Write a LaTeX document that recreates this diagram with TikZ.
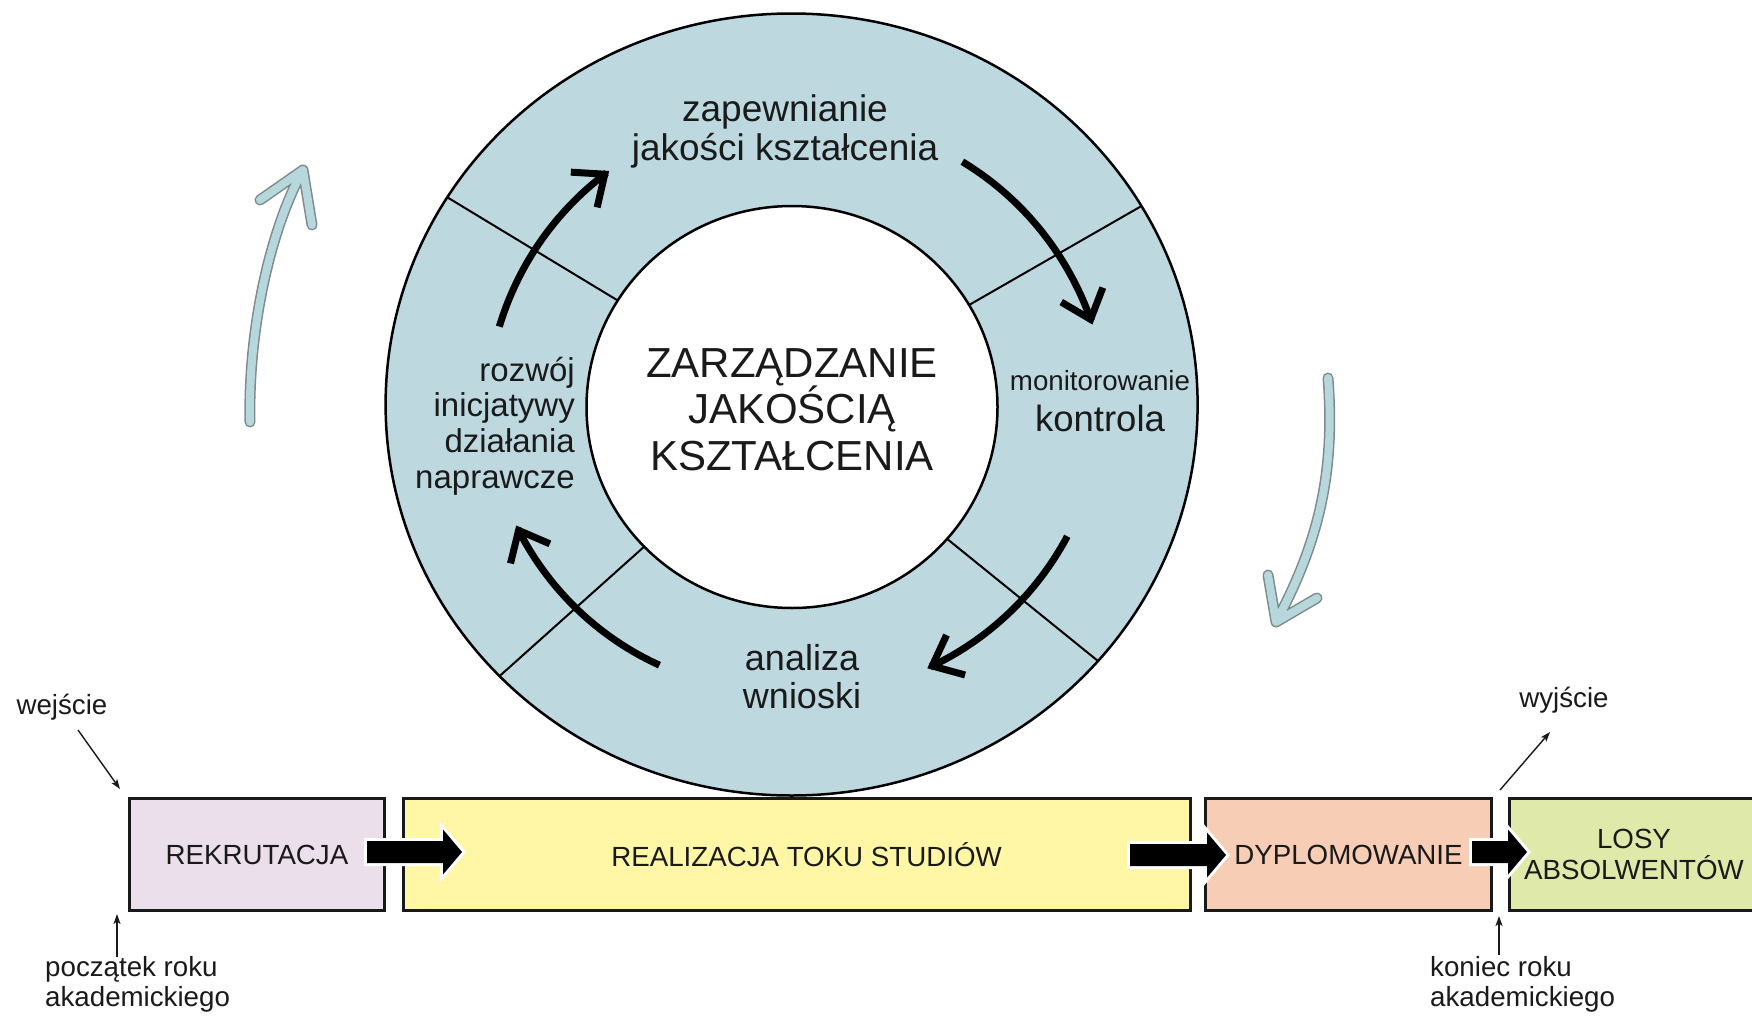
\documentclass[tikz,border=0pt]{standalone}
\usepackage{fontspec}
\setmainfont{Liberation Sans}
\usetikzlibrary{arrows.meta}
\definecolor{ringc}{HTML}{BDD9DF}
\definecolor{lavc}{HTML}{EADFEA}
\definecolor{yelc}{HTML}{FFF6A6}
\definecolor{peachc}{HTML}{F7CDB5}
\definecolor{greenc}{HTML}{DEE9AA}
\definecolor{blueac}{HTML}{B6D7DB}
\definecolor{blueoc}{HTML}{7E8A8C}
\definecolor{txtc}{HTML}{1A1A1A}
\newcommand{\blockarrow}[3]{%
  \draw[white, line width=6pt, line join=miter] (#1,#3-11) -- (#2-19,#3-11) -- (#2-19,#3-22.5) -- (#2,#3) -- (#2-19,#3+22.5) -- (#2-19,#3+11) -- (#1,#3+11) -- cycle;
  \fill[black] (#1,#3-11) -- (#2-19,#3-11) -- (#2-19,#3-22.5) -- (#2,#3) -- (#2-19,#3+22.5) -- (#2-19,#3+11) -- (#1,#3+11) -- cycle;}
\newcommand{\arcarrow}[4]{%
  \draw[cyclearrow] plot[domain=#1:#2, samples=60, variable=\t]
   ({792+(#3+(#4-#3)*(\t-#1)/(#2-#1))*cos(\t)}, {405-(#3+(#4-#3)*(\t-#1)/(#2-#1))*sin(\t)});}
\begin{document}
\begin{tikzpicture}[x=1pt,y=-1pt,
  every node/.style={text=txtc, inner sep=0pt},
  box/.style={draw=black!90, line width=3pt, minimum height=112pt, align=center,
    font=\fontsize{27.7}{31}\selectfont},
  lbl/.style={font=\fontsize{27.7}{30}\selectfont},
  sect/.style={align=center, font=\fontsize{37}{39}\selectfont},
  thinarrow/.style={line width=1.4pt, draw=txtc, -{Stealth[length=10pt,width=7pt,inset=2.5pt]}},
  cyclearrow/.style={line width=7pt, draw=black, -{Straight Barb[length=26pt,width=44pt]}},
  blueout/.style={line width=11pt, draw=blueoc, line cap=round, line join=round},
  bluein/.style={line width=8pt, draw=blueac, line cap=round, line join=round}]
\useasboundingbox (0,0) rectangle (1752,1017);
\fill[white] (0,0) rectangle (1752,1017);

% ring
\filldraw[fill=ringc, draw=black, line width=2.5pt] (791.6,404.5) ellipse [x radius=406, y radius=391];
\foreach \a in {148,30.5,224,319}
  \draw[line width=2pt] ({792+205.5*cos(\a)},{407-201*sin(\a)}) -- ({791.6+406*cos(\a)},{404.5-391*sin(\a)});
\filldraw[fill=white, draw=black, line width=2.5pt] (792,407) ellipse [x radius=205.5, y radius=201];

% texts in ring
\node[align=center, font=\fontsize{42}{46.5}\selectfont] (zjk) at (792,409.5) {ZARZĄDZANIE\\JAKOŚCIĄ\\KSZTAŁCENIA};
\node[sect] (zap) at (785,131) {zapewnianie\\jakości kształcenia};
\node[align=right, anchor=east, font=\fontsize{33}{35.7}\selectfont] (roz) at (575,426) {rozwój\\inicjatywy\\działania\\naprawcze};
\node[font=\fontsize{27.7}{30}\selectfont] (mon) at (1100,381) {monitorowanie};
\node[font=\fontsize{36.5}{40}\selectfont] (kont) at (1100,418) {kontrola};
\node[sect, font=\fontsize{36}{38}\selectfont] (ana) at (802,677) {analiza\\wnioski};

% cycle arrows
\arcarrow{165}{128}{303}{297}
\arcarrow{55}{15}{297}{311}
\arcarrow{-25.5}{-62.8}{305}{296}
\arcarrow{243}{203.6}{292}{301}

% light blue hand-drawn arrows
\draw[blueout] (250,422) .. controls (248,330) and (270,230) .. (303,170) (260,200) -- (303,170) -- (312,225);
\draw[bluein] (250,422) .. controls (248,330) and (270,230) .. (303,170) (260,200) -- (303,170) -- (312,225);
\draw[blueout] (1328,378) .. controls (1335,470) and (1320,540) .. (1276,622) (1268,575) -- (1276,622) -- (1317,598);
\draw[bluein] (1328,378) .. controls (1335,470) and (1320,540) .. (1276,622) (1268,575) -- (1276,622) -- (1317,598);

% process boxes
\node[box, fill=lavc, minimum width=255pt] (rek) at (257,854.5) {REKRUTACJA};
\node[box, fill=yelc, minimum width=787pt] (real) at (797,854.5) {\hspace*{19pt}REALIZACJA TOKU STUDIÓW};
\node[box, fill=peachc, minimum width=286pt] (dyp) at (1348.5,854.5) {DYPLOMOWANIE};
\node[box, fill=greenc, minimum width=249pt] (losy) at (1634,854.5) {LOSY\\ABSOLWENTÓW};

% block arrows
\blockarrow{367}{462}{852}
\blockarrow{1130}{1226}{855}
\blockarrow{1472}{1527}{852}

% labels
\node[lbl] (wej) at (62,707) {wejście};
\node[lbl, align=left, anchor=west] (pocz) at (45,984) {początek roku\\akademickiego};
\node[lbl] (wyj) at (1564,700) {wyjście};
\node[lbl, align=left, anchor=west] (konr) at (1430,984) {koniec roku\\akademickiego};

\coordinate (wejA) at (78,730);
\coordinate (wejB) at (120,789);
\coordinate (poczA) at (117,957);
\coordinate (poczB) at (117,914);
\coordinate (wyjA) at (1500,790);
\coordinate (wyjB) at (1550,732);
\coordinate (konA) at (1499,955);
\coordinate (konB) at (1499,916);
\draw[thinarrow] (wejA) -- (wejB);
\draw[thinarrow] (poczA) -- (poczB);
\draw[thinarrow] (wyjA) -- (wyjB);
\draw[thinarrow] (konA) -- (konB);
\end{tikzpicture}
\end{document}
